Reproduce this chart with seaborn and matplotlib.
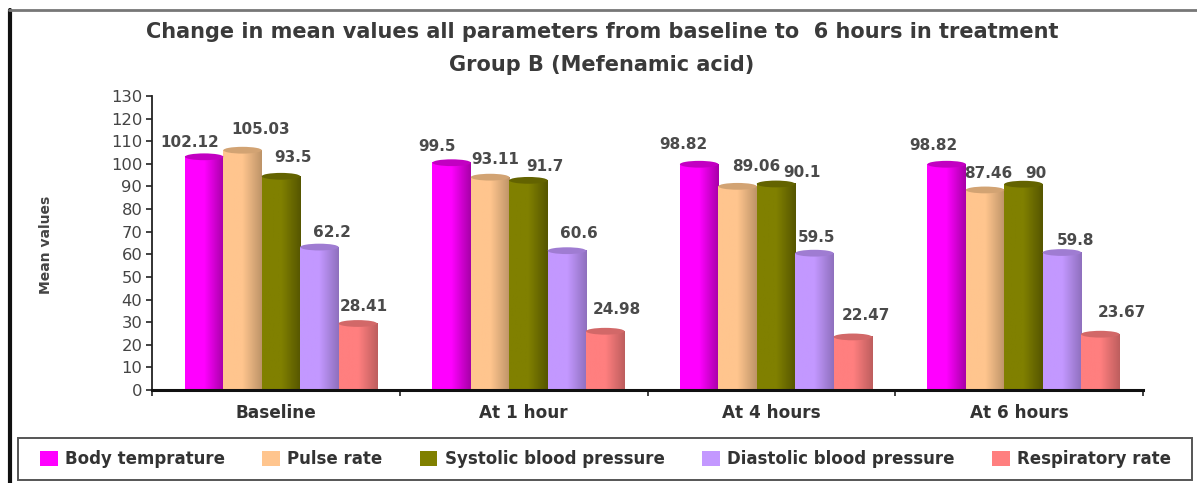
import numpy as np
import pandas as pd
import matplotlib
matplotlib.use("Agg")
import matplotlib.pyplot as plt
from matplotlib.colors import LinearSegmentedColormap, to_rgb
from matplotlib.patches import Ellipse, Rectangle
from matplotlib.lines import Line2D
import seaborn as sns

times = ["Baseline", "At 1 hour", "At 4 hours", "At 6 hours"]
params = ["Body temprature", "Pulse rate", "Systolic blood pressure",
          "Diastolic blood pressure", "Respiratory rate"]
body = [102.12, 99.5, 98.82, 98.82]
pulse = [105.03, 93.11, 89.06, 87.46]
systolic = [93.5, 91.7, 90.1, 90]
diastolic = [62.2, 60.6, 59.5, 59.8]
resp = [28.41, 24.98, 22.47, 23.67]
labels = ["102.12", "99.5", "98.82", "98.82",
          "105.03", "93.11", "89.06", "87.46",
          "93.5", "91.7", "90.1", "90",
          "62.2", "60.6", "59.5", "59.8",
          "28.41", "24.98", "22.47", "23.67"]
yticks = list(range(0, 131, 10))

colors = ["#FF00FF", "#FFC58E", "#808000", "#C398FF", "#FF7F7F"]
darks = ["#A800A8", "#BE9468", "#565600", "#8F70BE", "#BE5E5E"]
# label offsets in pixels from the bar-top centre, per series then per group
offs = [[(-14, 17), (-15, 18), (-16, 22), (-13, 21)],
        [(18, 23), (5, 20), (19, 22), (3, 19)],
        [(12, 21), (16, 16), (26, 14), (12, 13)],
        [(13, 17), (12, 19), (2, 18), (14, 14)],
        [(6, 19), (12, 24), (13, 24), (22, 24)]]

W, H = 1197, 483
sns.set_theme(style="white")
plt.rcParams["font.family"] = ["DejaVu Sans"]
fig = plt.figure(figsize=(W / 100, H / 100), dpi=100, facecolor="white")
ax = fig.add_axes([152 / W, 1 - 390 / H, (1143 - 152) / W, (390 - 96) / H])

df = pd.DataFrame({"time": times, params[0]: body, params[1]: pulse, params[2]: systolic,
                   params[3]: diastolic, params[4]: resp}).melt("time", var_name="param", value_name="value")
sns.barplot(data=df, x="time", y="value", hue="param", hue_order=params, order=times,
            palette=colors, width=0.776, gap=0, ax=ax, legend=False, errorbar=None,
            saturation=1, linewidth=0)
XLIM = (-0.521, 3.483)
STEP = (XLIM[1] - XLIM[0]) / len(times)
ax.set_yticks(yticks)
ax.set_ylabel("Mean values", fontsize=10, fontweight="bold", color="#444444", labelpad=0)
ax.yaxis.set_label_coords((53 - 152) / (1143 - 152), 0.493)
ax.set_xlabel("")
ax.set_xticks([XLIM[0] + STEP * (k + 0.5) for k in range(len(times))], times)
ax.tick_params(axis="y", labelsize=11.8, labelcolor="#444444", length=4, width=1.2, color="#222222", left=True, pad=3)
ax.tick_params(axis="x", labelsize=12.2, labelcolor="#333333", length=4, width=1.2, color="#222222", bottom=True, pad=10)
for t in ax.get_xticklabels():
    t.set_fontweight("bold")
for s in ["top", "right"]:
    ax.spines[s].set_visible(False)
ax.spines["left"].set_linewidth(1.3)
ax.spines["left"].set_color("#222222")
ax.spines["bottom"].set_linewidth(2.2)
ax.spines["bottom"].set_color("#111111")
ax.set_xticks([XLIM[0] + STEP * k for k in range(len(times) + 1)], minor=True)
ax.tick_params(axis="x", which="minor", length=4, width=1.2, color="#222222", bottom=True)
ax.tick_params(axis="x", which="major", length=0)

bars = [p for p in ax.patches if p.get_height() > 0]
n_t = len(times)
for i, p in enumerate(bars):
    s, g = i // n_t, i % n_t
    x0, w, h = p.get_x(), p.get_width(), p.get_height()
    cmap = LinearSegmentedColormap.from_list("b", [colors[s], colors[s], darks[s]])
    ax.imshow(np.linspace(0, 1, 64)[None, :], extent=(x0, x0 + w, 0, h + 1), aspect="auto",
              cmap=cmap, zorder=2.5)
    capc = 0.3 * np.array(to_rgb(colors[s])) + 0.7 * np.array(to_rgb(darks[s]))
    cap = Ellipse((x0 + w / 2, h + 1), w, 3.0, facecolor=capc, edgecolor="none", zorder=2.6)
    ax.add_patch(cap)
    dx, dy = offs[s][g]
    ax.annotate(labels[i], (x0 + w / 2, h), xytext=(dx, dy), textcoords="offset pixels",
                ha="center", va="center", fontsize=11, color="#4a4a4a", zorder=5,
                fontweight="bold", annotation_clip=False)
ax.set_xlim(*XLIM)
ax.set_ylim(0, 130)

fig.text(602 / W, 1 - 32 / H, "Change in mean values all parameters from baseline to  6 hours in treatment",
         ha="center", va="center", fontsize=15, fontweight="bold", color="#3a3a3a")
fig.text(602 / W, 1 - 65 / H, "Group B (Mefenamic acid)",
         ha="center", va="center", fontsize=15, fontweight="bold", color="#3a3a3a")

fig.add_artist(Rectangle((18 / W, 1 - 480 / H), (1192 - 18) / W, 42 / H, transform=fig.transFigure,
                         facecolor="white", edgecolor="#555555", linewidth=1.4))
handles = [Rectangle((0, 0), 1, 1, facecolor=c, edgecolor="none") for c in colors]
leg = fig.legend(handles, params, ncol=5, loc="center left",
                 bbox_to_anchor=(40 / W, 1 - 480 / H, (1171 - 40) / W, 42 / H), mode="expand",
                 frameon=False, handlelength=1.05, handleheight=1, handletextpad=0.45,
                 columnspacing=1.5, borderaxespad=0, labelcolor="#333333", borderpad=0,
                 prop={"weight": "bold", "size": 12})

fig.add_artist(Line2D([10 / W, 10 / W], [0, 1 - 10 / H], color="#111111", lw=3, transform=fig.transFigure))
fig.add_artist(Line2D([9 / W, 1], [1 - 10 / H, 1 - 10 / H], color="#777777", lw=2, transform=fig.transFigure))
fig.savefig("out.png", dpi=100)
